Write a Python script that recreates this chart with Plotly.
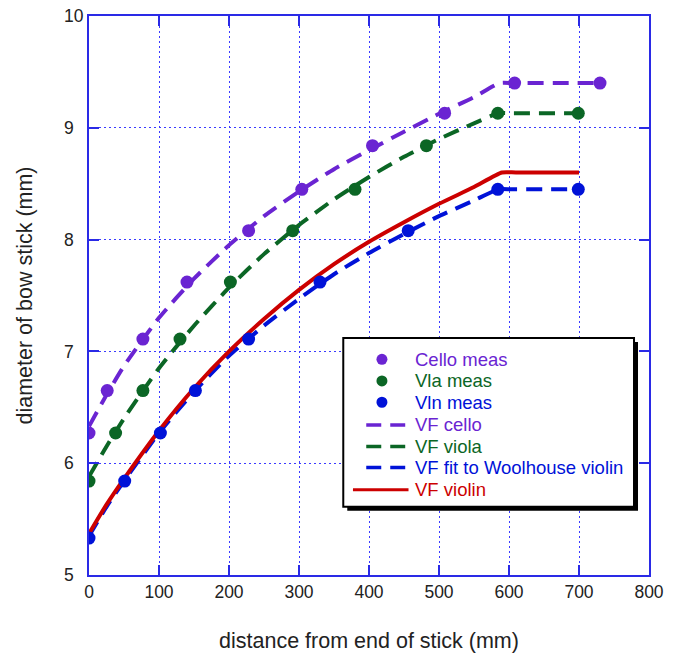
import plotly.graph_objects as go

# measured points
cello_x = [0, 26, 77, 140, 228, 304, 405, 508, 608, 730]
cello_y = [6.27, 6.65, 7.11, 7.62, 8.08, 8.45, 8.84, 9.13, 9.40, 9.40]
vla_x = [0, 38, 77, 130, 202, 291, 380, 482, 584, 699]
vla_y = [5.84, 6.27, 6.65, 7.11, 7.62, 8.08, 8.45, 8.84, 9.13, 9.13]
vln_x = [0, 51, 102, 152, 228, 330, 456, 584, 699]
vln_y = [5.33, 5.84, 6.27, 6.65, 7.11, 7.62, 8.08, 8.45, 8.45]

# VF curves
vfc_x = [0, 25, 50, 100, 150, 200, 250, 300, 350, 400, 450, 500, 550, 587, 607, 730]
vfc_y = [6.33, 6.61, 6.87, 7.3, 7.65, 7.95, 8.21, 8.43, 8.63, 8.8, 8.965, 9.125, 9.275, 9.40, 9.40, 9.40]
vfa_x = [0, 25, 50, 100, 150, 200, 250, 300, 350, 400, 450, 500, 550, 585, 605, 700]
vfa_y = [5.88, 6.15, 6.4, 6.85, 7.23, 7.57, 7.87, 8.13, 8.36, 8.56, 8.74, 8.9, 9.04, 9.13, 9.13, 9.13]
vfw_x = [0, 25, 50, 100, 150, 200, 250, 300, 350, 400, 450, 500, 550, 585, 605, 700]
vfw_y = [5.35, 5.61, 5.84, 6.27, 6.64, 6.96, 7.23, 7.47, 7.69, 7.88, 8.05, 8.21, 8.35, 8.45, 8.45, 8.45]
vfv_x = [0, 25, 50, 100, 150, 200, 250, 300, 350, 400, 450, 500, 550, 590, 610, 700]
vfv_y = [5.37, 5.63, 5.86, 6.29, 6.67, 7.0, 7.29, 7.55, 7.78, 7.98, 8.155, 8.32, 8.47, 8.60, 8.60, 8.60]

legend_names = ["Cello meas", "Vla meas", "Vln meas", "VF cello", "VF viola",
                "VF fit to Woolhouse violin", "VF violin"]

PURPLE = "#6a24d2"
GREEN = "#0b6625"
BLUE = "#0012d8"
RED = "#cc0000"
AXIS = "#2a2ae6"
GRID = "#3a3aff"
FONT = "Liberation Sans, Arial, sans-serif"

fig = go.Figure()
DASH = "16px,9px"
curves = [(vfc_x, vfc_y, PURPLE, DASH), (vfa_x, vfa_y, GREEN, DASH),
          (vfw_x, vfw_y, BLUE, DASH), (vfv_x, vfv_y, RED, "solid")]
for (cx, cy, col, dsh), nm in zip(curves, legend_names[3:]):
    fig.add_trace(go.Scatter(x=cx, y=cy, mode="lines", name=nm, showlegend=False,
                             line=dict(color=col, width=4, dash=dsh, shape="spline", smoothing=0.6)))
pts = [(cello_x, cello_y, PURPLE), (vla_x, vla_y, GREEN), (vln_x, vln_y, BLUE)]
for (px_, py_, col), nm in zip(pts, legend_names[:3]):
    fig.add_trace(go.Scatter(x=px_, y=py_, mode="markers", name=nm, showlegend=False,
                             marker=dict(color=col, size=13)))

W, H = 680, 653
ml, mr, mt, mb = 88.5, 31, 15.5, 77.7
pw, ph = W - ml - mr, H - mt - mb

def fx(x):
    return (x - ml) / pw

def fy(y):
    return (H - mb - y) / ph

# custom legend box with drop shadow
shapes = []
shapes.append(dict(type="rect", xref="paper", yref="paper", x0=fx(347), x1=fx(638),
                   y0=fy(511), y1=fy(342), fillcolor="black", line=dict(width=0), layer="above"))
shapes.append(dict(type="rect", xref="paper", yref="paper", x0=fx(343), x1=fx(634),
                   y0=fy(507), y1=fy(338), fillcolor="white", line=dict(color="black", width=2),
                   layer="above"))
row_y = [359.3, 381, 402.3, 425, 446.7, 467.7, 490]
leg_colors = [PURPLE, GREEN, BLUE, PURPLE, GREEN, BLUE, RED]
annotations = []
for i, (nm, col, ry) in enumerate(zip(legend_names, leg_colors, row_y)):
    if i < 3:
        r = 5.5
        shapes.append(dict(type="circle", xref="paper", yref="paper",
                           x0=fx(381.7 - r), x1=fx(381.7 + r), y0=fy(ry + r), y1=fy(ry - r),
                           fillcolor=col, line=dict(width=0), layer="above"))
    elif i < 6:
        shapes.append(dict(type="line", xref="paper", yref="paper",
                           x0=fx(366), x1=fx(405), y0=fy(ry), y1=fy(ry),
                           line=dict(color=col, width=3.5, dash="15px,9px"), layer="above"))
    else:
        shapes.append(dict(type="line", xref="paper", yref="paper",
                           x0=fx(352.7), x1=fx(408.3), y0=fy(ry), y1=fy(ry),
                           line=dict(color=col, width=3), layer="above"))
    annotations.append(dict(text=nm, xref="paper", yref="paper", x=fx(413), y=fy(ry),
                            xanchor="left", yanchor="middle", showarrow=False,
                            font=dict(family=FONT, size=18.5, color=col)))

ytickvals = [5, 6, 7, 8, 9, 10]
yticktext = ["5\u2007", "6\u2007", "7\u2007", "8\u2007", "9\u2007", "10"]

fig.update_layout(
    width=W, height=H,
    margin=dict(l=ml, r=mr, t=mt, b=mb, autoexpand=False),
    paper_bgcolor="white", plot_bgcolor="white",
    font=dict(family=FONT, size=18, color="#222"),
    showlegend=False,
    shapes=shapes,
    annotations=annotations,
    xaxis=dict(range=[0, 800], dtick=100, showgrid=True, gridcolor=GRID, griddash="2px,3px",
               gridwidth=1.4, showline=True, linecolor=AXIS, linewidth=2, mirror="ticks",
               ticks="inside", ticklen=10, tickcolor=AXIS, tickwidth=1.5, zeroline=False,
               automargin=False,
               title=dict(text="distance from end of stick (mm)", font=dict(size=21.5), standoff=33),
               tickfont=dict(size=17.5)),
    yaxis=dict(range=[5, 10], tickvals=ytickvals, ticktext=yticktext, showgrid=True,
               gridcolor=GRID, griddash="2px,3px",
               gridwidth=1.4, showline=True, linecolor=AXIS, linewidth=2, mirror="ticks",
               ticks="inside", ticklen=10, tickcolor=AXIS, tickwidth=1.5, zeroline=False,
               automargin=False,
               title=dict(text="diameter of bow stick (mm)", font=dict(size=21.5), standoff=26),
               tickfont=dict(size=17.5)),
)

fig.write_html("out.html")
